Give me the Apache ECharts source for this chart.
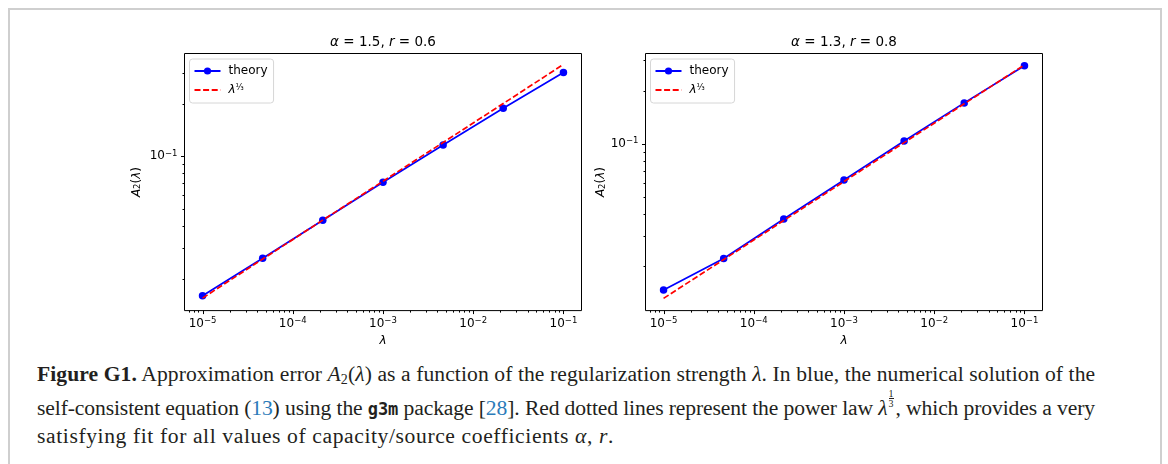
<!DOCTYPE html>
<html><head><meta charset="utf-8">
<script src="https://cdn.jsdelivr.net/npm/echarts@6/dist/echarts.min.js"></script>
<style>
html,body{margin:0;padding:0;background:#fff;width:1168px;height:464px;overflow:hidden;}
#frame{position:absolute;left:8px;top:8px;width:1154px;height:480px;border:2px solid #cfcfcf;border-bottom:none;box-sizing:border-box;}
#chart{position:absolute;left:0;top:0;width:1168px;height:352px;}
#caption{position:absolute;left:37px;top:361px;font-family:'Liberation Serif',serif;font-size:21.6px;line-height:27.5px;color:#231f20;}
#caption .ln{white-space:nowrap;}
#caption .l1{letter-spacing:0.08px;}
#caption .l2{letter-spacing:-0.11px;}
#caption .l3{letter-spacing:0.6px;}
#caption .ref{color:#2b7bb9;}
#caption .tt{font-family:'DejaVu Sans Mono',monospace;font-size:17px;font-weight:bold;}
#caption .frac{display:inline-block;vertical-align:8px;font-size:10px;line-height:9px;text-align:center;margin-left:1px;margin-right:2px;}
#caption .frac span{display:block;}
#caption .frac span:first-child{border-bottom:1px solid #231f20;}
#caption sub{font-size:14px;vertical-align:-3px;line-height:0;}
</style></head><body>
<div id="frame"></div>
<div id="chart"></div>
<div id="caption">
<div class="ln l1"><b>Figure G1.</b> Approximation error <i>A</i><sub>2</sub>(<i>λ</i>) as a function of the regularization strength <i>λ</i>. In blue, the numerical solution of the</div>
<div class="ln l2">self-consistent equation (<span class="ref">13</span>) using the <span class="tt">g3m</span> package [<span class="ref">28</span>]. Red dotted lines represent the power law <i>λ</i><span class="frac"><span>1</span><span>3</span></span>, which provides a very</div>
<div class="ln l3">satisfying fit for all values of capacity/source coefficients <i>α</i>, <i>r</i>.</div>
</div>
<script>
// ---- data ----
const lambdas = [1e-5, 4.64e-5, 2.15e-4, 1e-3, 4.64e-3, 2.15e-2, 1e-1];
const theoryA = [0.0160, 0.0262, 0.0431, 0.0711, 0.116, 0.188, 0.301];
const powerA  = [0.0155, 0.0259, 0.0432, 0.0721, 0.120, 0.200, 0.335];
const theoryB = [0.01466, 0.0222, 0.0373, 0.0624, 0.1040, 0.1718, 0.280];
const powerB  = [0.01315, 0.0219, 0.0366, 0.0611, 0.1019, 0.1698, 0.2831];
const panelTitles = ['{i|α} = 1.5, {i|r} = 0.6', '{i|α} = 1.3, {i|r} = 0.8'];
const seriesNames = ['theory', 'power'];
const xMajorTicks = [1e-5, 1e-4, 1e-3, 1e-2, 1e-1];
const yMajorTicks = [1e-1];
const xMinorTicks = [7e-6, 8e-6, 9e-6,
  2e-5, 3e-5, 4e-5, 5e-5, 6e-5, 7e-5, 8e-5, 9e-5,
  2e-4, 3e-4, 4e-4, 5e-4, 6e-4, 7e-4, 8e-4, 9e-4,
  2e-3, 3e-3, 4e-3, 5e-3, 6e-3, 7e-3, 8e-3, 9e-3,
  2e-2, 3e-2, 4e-2, 5e-2, 6e-2, 7e-2, 8e-2, 9e-2];
const yMinorTicks = [0.02, 0.03, 0.04, 0.05, 0.06, 0.07, 0.08, 0.09, 0.2, 0.3];
const xRange = [Math.pow(10, -5.2), Math.pow(10, -0.8)];
const yRangeA = [Math.pow(10, -1.881), Math.pow(10, -0.413)];
const yRangeB = [Math.pow(10, -1.951), Math.pow(10, -0.483)];

// ---- layout ----
const grids = [
  {left: 184.5, top: 53.5, width: 397, height: 258},
  {left: 645.5, top: 53.5, width: 397, height: 258}
];
const FONT = 'DejaVu Sans';
const expRich = {
  b: {fontSize: 12, fontFamily: FONT, color: '#000', lineHeight: 15},
  s: {fontSize: 8.5, fontFamily: FONT, color: '#000', lineHeight: 9, verticalAlign: 'top'}
};
function expLabel(v) {
  const e = Math.log10(v);
  const r = Math.round(e);
  if (Math.abs(e - r) > 1e-6) return '';
  return '{b|10}{s|' + (r < 0 ? '\u2212' + (-r) : r) + '}';
}
const zip = (xs, ys) => xs.map((x, i) => [x, ys[i]]);

function tickSeries(gi, axis, values, len, yRange) {
  return {
    type: 'custom', xAxisIndex: gi, yAxisIndex: gi, silent: true, clip: false, z: 1,
    data: values.map(v => axis === 'x' ? [v, yRange[0]] : [xRange[0], v]),
    renderItem(params, api) {
      const cs = params.coordSys;
      const p = api.coord([api.value(0), api.value(1)]);
      if (axis === 'x') {
        const x = Math.round(p[0]) + 0.5, y0 = cs.y + cs.height;
        return {type: 'line', shape: {x1: x, y1: y0, x2: x, y2: y0 + len}, style: {stroke: '#000', lineWidth: 1}};
      }
      const y = Math.round(p[1]) + 0.5, x0 = cs.x;
      return {type: 'line', shape: {x1: x0, y1: y, x2: x0 - len, y2: y}, style: {stroke: '#000', lineWidth: 1}};
    }
  };
}

const yRanges = [yRangeA, yRangeB];
const theories = [theoryA, theoryB];
const powers = [powerA, powerB];
const yNameGaps = [42, 38];

const option = {
  animation: false,
  backgroundColor: 'transparent',
  title: grids.map((g, i) => ({
    text: panelTitles[i], left: g.left + g.width / 2, top: 35, textAlign: 'center', padding: 0,
    textStyle: {fontFamily: FONT, fontSize: 13.5, fontWeight: 'normal', color: '#000',
      rich: {i: {fontFamily: FONT, fontSize: 13.5, fontStyle: 'italic', color: '#000'}}}
  })),
  grid: grids.map(g => Object.assign({show: true, borderColor: '#000', borderWidth: 1, backgroundColor: 'transparent', containLabel: false}, g)),
  xAxis: grids.map((g, i) => ({
    type: 'log', logBase: 10, gridIndex: i, min: xRange[0], max: xRange[1],
    axisLine: {show: false}, axisTick: {show: false}, splitLine: {show: false}, minorTick: {show: false},
    axisLabel: {formatter: expLabel, showMinLabel: false, showMaxLabel: false, margin: 6, rich: expRich},
    name: 'λ', nameLocation: 'middle', nameGap: 24,
    nameTextStyle: {fontFamily: FONT, fontSize: 12, fontStyle: 'italic', color: '#000'}
  })),
  yAxis: grids.map((g, i) => ({
    type: 'log', logBase: 10, gridIndex: i, min: yRanges[i][0], max: yRanges[i][1],
    axisLine: {show: false}, axisTick: {show: false}, splitLine: {show: false}, minorTick: {show: false},
    axisLabel: {formatter: expLabel, showMinLabel: false, showMaxLabel: false, margin: 7, rich: expRich},
    name: '{i|A}{s|2}({i|λ})', nameLocation: 'middle', nameGap: yNameGaps[i], nameRotate: 90,
    nameTextStyle: {fontFamily: FONT, fontSize: 12, color: '#000',
      rich: {i: {fontFamily: FONT, fontSize: 12, fontStyle: 'italic', color: '#000'},
             s: {fontFamily: FONT, fontSize: 8.5, color: '#000', verticalAlign: 'bottom'}}}
  })),
  legend: grids.map((g, i) => ({
    orient: 'vertical', left: g.left + 5, top: 59,
    data: [{name: seriesNames[0]}, {name: seriesNames[1], itemStyle: {color: 'transparent', borderWidth: 0, opacity: 0}}],
    itemWidth: 26, itemHeight: 9, itemGap: 5,
    padding: [5, 6, 6, 4], borderColor: '#d6d6d6', borderWidth: 1, borderRadius: 3,
    backgroundColor: 'rgba(255,255,255,0.8)',
    formatter: n => n === 'theory' ? 'theory' : '{l|λ}{s|\u2153}',
    textStyle: {fontFamily: FONT, fontSize: 12, color: '#000', padding: [0, 0, 0, 3], lineHeight: 14,
      rich: {l: {fontFamily: FONT, fontSize: 12, fontStyle: 'italic', color: '#000'},
             s: {fontFamily: FONT, fontSize: 8.5, color: '#000', verticalAlign: 'top'}}}
  })),
  series: []
};

grids.forEach((g, i) => {
  option.series.push({
    type: 'line', name: seriesNames[0], xAxisIndex: i, yAxisIndex: i,
    data: zip(lambdas, theories[i]), symbol: 'circle', symbolSize: 7.5, showSymbol: true,
    itemStyle: {color: '#0000ff'}, lineStyle: {color: '#0000ff', width: 1.7}, z: 3
  });
  option.series.push({
    type: 'line', name: seriesNames[1], xAxisIndex: i, yAxisIndex: i,
    data: zip(lambdas, powers[i]), symbol: 'none',
    itemStyle: {color: '#ff0000'}, lineStyle: {color: '#ff0000', width: 1.7, type: [6, 2.6]}, z: 4
  });
  option.series.push(tickSeries(i, 'x', xMajorTicks, 3.5, yRanges[i]));
  option.series.push(tickSeries(i, 'x', xMinorTicks, 2, yRanges[i]));
  option.series.push(tickSeries(i, 'y', yMajorTicks, 3.5, yRanges[i]));
  option.series.push(tickSeries(i, 'y', yMinorTicks, 2, yRanges[i]));
});

const chart = echarts.init(document.getElementById('chart'), null, {renderer: 'canvas'});
chart.setOption(option);
</script>
</body></html>
